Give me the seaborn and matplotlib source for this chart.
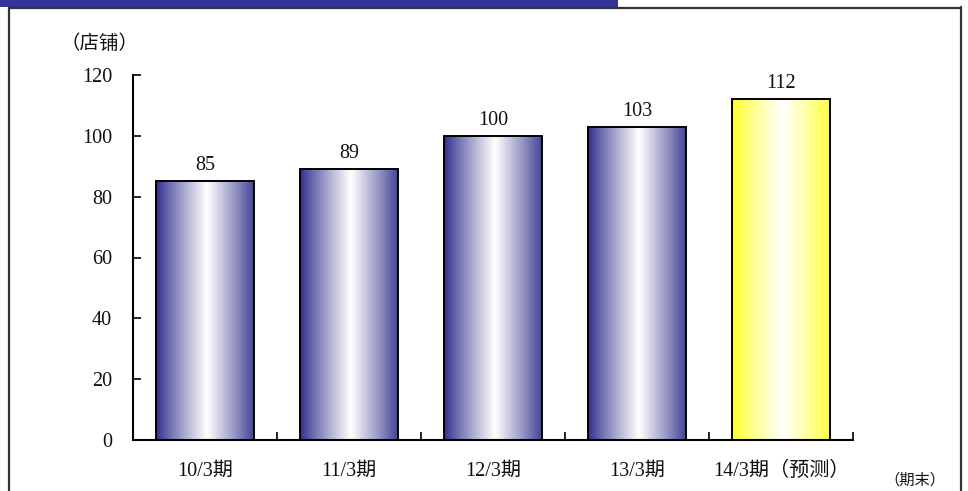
import numpy as np
import pandas as pd
import matplotlib
matplotlib.use("Agg")
import matplotlib.pyplot as plt
from matplotlib.colors import to_rgb
from matplotlib.lines import Line2D
from matplotlib.patches import Rectangle
import seaborn as sns

# Store count at fiscal year end (March), last period is a forecast
periods = ["10/3期", "11/3期", "12/3期", "13/3期", "14/3期（预测）"]
stores = [85, 89, 100, 103, 112]
is_forecast = [False, False, False, False, True]
y_ticks = [0, 20, 40, 60, 80, 100, 120]

sns.set_theme(style="white")
plt.rcParams["font.family"] = ["Liberation Serif", "Noto Sans CJK SC"]

W, H, DPI = 968, 491, 100
fig = plt.figure(figsize=(W / DPI, H / DPI), dpi=DPI)
ax = fig.add_axes([133 / W, 51 / H, (853 - 133) / W, (440 - 75) / H])

df = pd.DataFrame({"period": periods, "stores": stores})
sns.barplot(data=df, x="period", y="stores", ax=ax, width=0.675,
            color="white", edgecolor="black", linewidth=1.4, saturation=1)

ax.set_xlim(-0.5, len(periods) - 0.5)
ax.set_ylim(0, 120)


def gradient_img(edge_hex):
    edge = np.array(to_rgb(edge_hex))
    t = np.linspace(0, 1, 256)
    f = 1 - np.abs(t - 0.52) / 0.52
    f = np.clip(f, 0, 1) ** 0.9
    rgb = edge[None, :] + (1 - edge[None, :]) * f[:, None]
    return rgb[None, :, :]


for patch, fc in zip(ax.patches, is_forecast):
    x0, y0 = patch.get_x(), patch.get_y()
    w, h = patch.get_width(), patch.get_height()
    img = gradient_img("#ffff2a" if fc else "#2e2e8c")
    im = ax.imshow(img, extent=[x0, x0 + w, y0, y0 + h], aspect="auto",
                   interpolation="bilinear", zorder=patch.get_zorder() - 0.1)
    im.set_clip_path(patch)
    patch.set_facecolor("none")
    patch.set_zorder(patch.get_zorder() + 0.2)
    ax.text(x0 + w / 2, y0 + h + 2.0, f"{int(h)}", ha="center", va="bottom",
            fontsize=14.5, color="#111111")

ax.set_aspect("auto")
ax.set_xlim(-0.5, len(periods) - 0.5)
ax.set_ylim(0, 120)

ax.set_yticks(y_ticks)
ax.set_yticklabels([str(v) for v in y_ticks], fontsize=14.5)
ax.tick_params(axis="y", which="major", direction="in", length=6, width=1.2,
               pad=15, left=True, colors="black")
ax.set_xticks(np.arange(len(periods)))
ax.set_xticklabels(periods, fontsize=14.5)
ax.tick_params(axis="x", which="major", length=0, pad=16, colors="black")
ax.set_xticks(np.arange(len(periods) + 1) - 0.5, minor=True)
ax.tick_params(axis="x", which="minor", direction="in", length=6, width=1.2,
               bottom=True, colors="black")
for lab in ax.get_xticklabels() + ax.get_yticklabels():
    lab.set_color("#111111")

ax.set_xlabel("")
ax.set_ylabel("")
sns.despine(ax=ax)
for side in ("left", "bottom"):
    ax.spines[side].set_color("black")
    ax.spines[side].set_linewidth(1.5)

fig.text(61 / W, 1 - 44 / H, "（店铺）", fontsize=14, ha="left", va="center",
         color="#111111")
fig.text(884 / W, 1 - 480 / H, "（期末）", fontsize=11, ha="left", va="center",
         color="#111111")

# Header strip and page frame
fig.add_artist(Rectangle((0, 1 - 7 / H), 618 / W, 7 / H, transform=fig.transFigure,
                         facecolor="#333399", edgecolor="none"))
frame_kw = dict(transform=fig.transFigure, color="#333333", linewidth=1.6)
fig.add_artist(Line2D([8.5 / W, 8.5 / W], [0, 1 - 7 / H], **frame_kw))
fig.add_artist(Line2D([960.5 / W, 960.5 / W], [0, 1 - 7 / H], **frame_kw))
fig.add_artist(Line2D([618 / W, 961 / W], [1 - 7.5 / H, 1 - 7.5 / H], **frame_kw))
fig.add_artist(Line2D([8.5 / W, 618 / W], [1 - 7.5 / H, 1 - 7.5 / H], **frame_kw))

fig.savefig("out.png", dpi=DPI)
